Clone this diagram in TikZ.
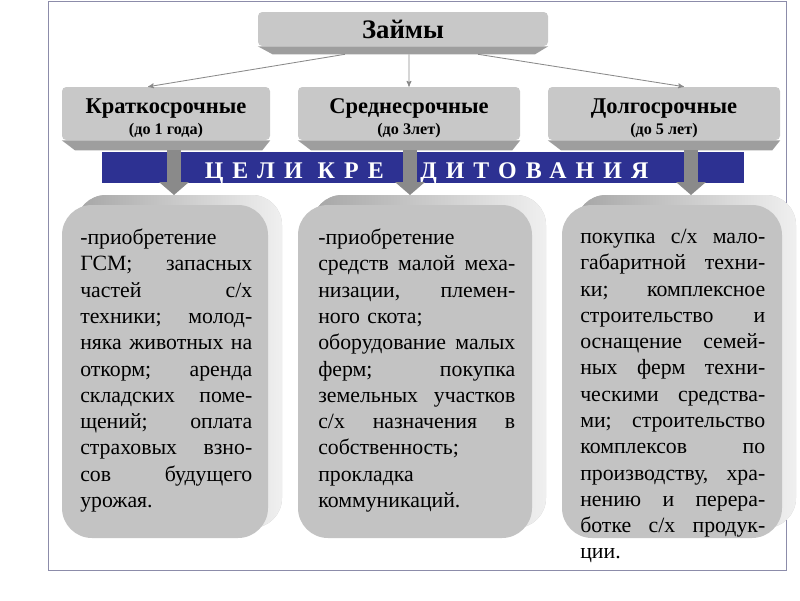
\documentclass[tikz,border=0pt]{standalone}
\usepackage{fontspec}
\setmainfont{Liberation Serif}
\newfontfamily\bandfont[LetterSpace=38]{Liberation Serif}
\usetikzlibrary{positioning, shapes, arrows, arrows.meta}
\definecolor{bandblue}{RGB}{45,49,146}
\definecolor{facegray}{RGB}{200,200,200}
\definecolor{bevelgray}{RGB}{158,158,158}
\definecolor{goalgray}{RGB}{195,195,195}
\definecolor{arrowgray}{RGB}{138,138,138}
\definecolor{framegray}{RGB}{140,140,170}
\newlength{\goalwidth}
\newcommand{\jline}[1]{\leavevmode\hbox to \goalwidth{#1}}

\begin{document}
\begin{tikzpicture}[-,>=stealth',
        facebox/.style={rectangle, rounded corners=3pt, fill=facegray, inner sep=0pt, align=center, font=\bfseries},
        bevel/.style={fill=bevelgray},
        linkarrow/.style={->, draw=arrowgray, line width=0.6pt},
        bigarrow/.style={-{Triangle[length=0.32cm,width=0.72cm]}, draw=arrowgray, line width=0.33cm, shorten <=0.25cm},
        goalface/.style={rectangle, rounded corners=0.75cm, fill=goalgray, inner sep=0pt, minimum height=8.325cm},
        goalback/.style={goalface, left color=gray!70, right color=gray!12},
        goaltext/.style={anchor=north west, inner sep=0pt, align=left, text width=#1,
            execute at begin node={\setlength{\goalwidth}{#1}}, font=\fontsize{15.5}{18.7}\selectfont}]
        \useasboundingbox (0,0) rectangle (20,-15);
        \draw[framegray, line width=0.7pt] (1.2,-0.03) rectangle (19.65,-14.25);

        % top
        \node at (10.075,-0.725) [facebox, minimum width=7.25cm, minimum height=0.85cm] (zaim) {\fontsize{19}{21}\selectfont Займы};
        \fill[bevel] (zaim.south west) -- (zaim.south east) -- ([shift={(-0.33,-0.2)}]zaim.south east) -- ([shift={(0.37,-0.2)}]zaim.south west) -- cycle;

        % kinds of loans
        \node at (4.15,-2.8375) [facebox, minimum width=5.2cm, minimum height=1.325cm] (short) {\fontsize{16}{18}\selectfont\rule{0pt}{18pt}Краткосрочные\\[3pt]\fontsize{11.5}{13}\selectfont (до 1 года)};
        \node at (10.225,-2.8375) [facebox, minimum width=5.55cm, minimum height=1.325cm] (mid) {\fontsize{16}{18}\selectfont\rule{0pt}{18pt}Среднесрочные\\[3pt]\fontsize{11.5}{13}\selectfont (до 3лет)};
        \node at (16.6,-2.8375) [facebox, minimum width=5.8cm, minimum height=1.325cm] (long) {\fontsize{16}{18}\selectfont\rule{0pt}{18pt}Долгосрочные\\[3pt]\fontsize{11.5}{13}\selectfont (до 5 лет)};
        \fill[bevel] (short.south west) -- (short.south east) -- ([shift={(-0.2,-0.25)}]short.south east) -- ([shift={(0.33,-0.25)}]short.south west) -- cycle;
        \fill[bevel] (mid.south west) -- (mid.south east) -- ([shift={(-0.2,-0.25)}]mid.south east) -- ([shift={(0.33,-0.25)}]mid.south west) -- cycle;
        \fill[bevel] (long.south west) -- (long.south east) -- ([shift={(-0.2,-0.25)}]long.south east) -- ([shift={(0.33,-0.25)}]long.south west) -- cycle;

        \draw[linkarrow] ([shift={(-1.45,-0.2)}]zaim.south) -- ([xshift=-0.45cm]short.north);
        \draw[linkarrow] ([shift={(0.15,-0.2)}]zaim.south) -- (mid.north);
        \draw[linkarrow] ([shift={(1.875,-0.2)}]zaim.south) -- ([xshift=0.5cm]long.north);

        % band
        \node at (10.575,-4.1875) [rectangle, fill=bandblue, minimum width=16.05cm, minimum height=0.775cm, inner sep=0pt] (band) {};
        \node at (9.6,-4.45) [anchor=base east, inner sep=0pt, text=white, font=\bandfont\bfseries\fontsize{17}{19}\selectfont] (bandleft) {ЦЕЛИ КРЕ};
        \node at (10.5,-4.45) [anchor=base west, inner sep=0pt, text=white, font=\bandfont\bfseries\fontsize{17}{19}\selectfont] (bandright) {ДИТОВАНИЯ};

        \coordinate (a1) at (4.35,-4.875);
        \coordinate (a2) at (10.25,-4.875);
        \coordinate (a3) at (17.275,-4.875);
        \draw[bigarrow] (short.south -| a1) -- (a1);
        \draw[bigarrow] (mid.south -| a2) -- (a2);
        \draw[bigarrow] (long.south -| a3) -- (a3);

        % goals
        \node at (4.475,-9.0375) [goalback, minimum width=5.15cm] (shortback) {};
        \node at (4.125,-9.2875) [goalface, minimum width=5.15cm] (shortgoal) {};
        \node at (10.725,-9.0375) [goalback, minimum width=5.85cm] (midback) {};
        \node at (10.375,-9.2875) [goalface, minimum width=5.85cm] (midgoal) {};
        \node at (17.15,-9.0375) [goalback, minimum width=5.5cm] (longback) {};
        \node at (16.8,-9.2875) [goalface, minimum width=5.5cm] (longgoal) {};

        \node at (2.0,-5.72) [goaltext=4.3cm] (shorttext) {-приобретение\\
            \jline{ГСМ;\hfill запасных}\\
            \jline{частей\hfill с/х}\\
            \jline{техники;\hfill молод-}\\
            \jline{няка\hfill животных\hfill на}\\
            \jline{откорм;\hfill аренда}\\
            \jline{складских\hfill поме-}\\
            \jline{щений;\hfill оплата}\\
            \jline{страховых\hfill взно-}\\
            \jline{сов\hfill будущего}\\
            урожая.};
        \node at (7.95,-5.72) [goaltext=4.925cm] (midtext) {-приобретение\\
            \jline{средств\hfill малой\hfill меха-}\\
            \jline{низации,\hfill племен-}\\
            ного скота;\\
            \jline{оборудование\hfill малых}\\
            \jline{ферм;\hfill покупка}\\
            \jline{земельных\hfill участков}\\
            \jline{с/х\hfill назначения\hfill в}\\
            собственность;\\
            прокладка\\
            коммуникаций.};
        \node at (14.5,-5.72) [goaltext=4.625cm] (longtext) {\jline{покупка\hfill с/х\hfill мало-}\\
            \jline{габаритной\hfill техни-}\\
            \jline{ки;\hfill комплексное}\\
            \jline{строительство\hfill и}\\
            \jline{оснащение\hfill семей-}\\
            \jline{ных\hfill ферм\hfill техни-}\\
            \jline{ческими\hfill средства-}\\
            \jline{ми;\hfill строительство}\\
            \jline{комплексов\hfill по}\\
            \jline{производству,\hfill хра-}\\
            \jline{нению\hfill и\hfill перера-}\\
            \jline{ботке\hfill с/х\hfill продук-}\\
            ции.};
\end{tikzpicture}
\end{document}
